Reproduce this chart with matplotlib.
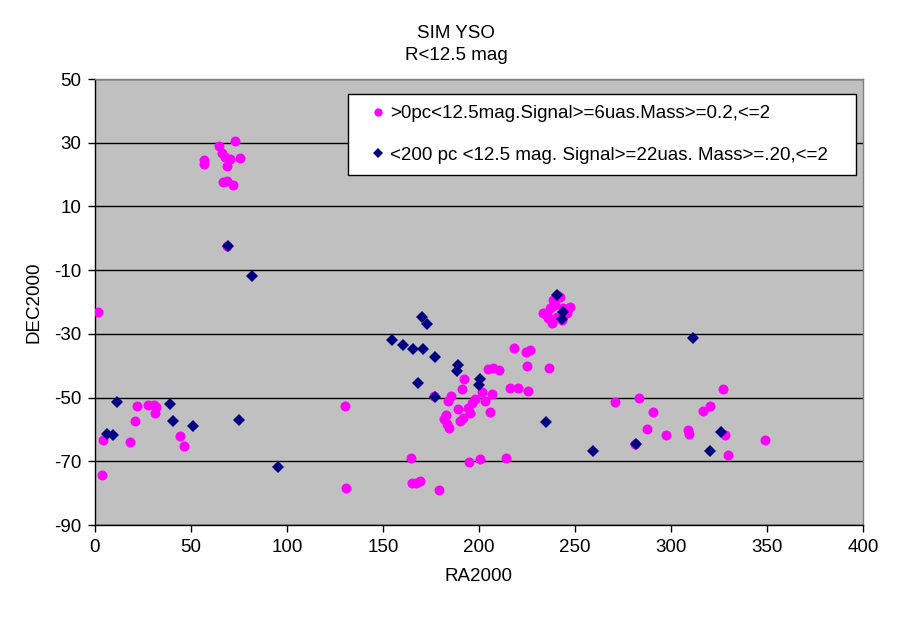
import matplotlib
matplotlib.use("Agg")
import matplotlib.pyplot as plt
from matplotlib.lines import Line2D

plt.rcParams['font.family'] = ['Liberation Sans', 'DejaVu Sans']
plt.rcParams['axes.unicode_minus'] = False

# Series 1: >0pc<12.5mag.Signal>=6uas.Mass>=0.2,<=2  (magenta circles)
ra_all = [72.8, 64.6, 66.3, 67.7, 70.3, 75.5, 56.8, 56.8, 68.6, 66.8, 68.6, 71.9, 68.9,
          1.4, 21.7, 27.8, 30.7, 31.8, 31.3, 20.8, 4.3, 18.1, 44.1, 46.4, 3.5,
          130.2, 130.7,
          218.1, 224.5, 226.6, 224.8, 236.3, 204.9, 207.5, 210.4, 192.0, 191.1, 216.1, 220.5,
          225.5, 201.6, 206.8, 176.6, 185.3, 184.0, 197.9, 196.2, 203.1, 189.2, 194.4, 205.7,
          195.3, 182.8, 181.8, 191.8, 190.1, 183.5, 184.5, 164.4, 194.8, 200.5, 214.1,
          164.9, 169.3, 167.1, 179.0,
          240.4, 238.7, 247.4, 233.5, 236.1, 237.8, 240.4, 245.7, 239.6, 242.2, 235.2, 237.0,
          243.9, 243.0,
          270.8, 283.2, 290.6, 287.5, 297.4, 308.7, 309.4, 316.8, 320.3, 326.9, 328.3, 329.7,
          349.0, 281.0]
dec_all = [30.6, 29.1, 26.7, 25.4, 24.8, 25.3, 24.6, 23.3, 22.7, 17.8, 18.1, 16.7, -2.3,
           -23.0, -52.6, -52.3, -52.2, -53.0, -54.9, -57.2, -63.3, -63.8, -62.2, -65.1, -74.2,
           -52.8, -78.5,
           -34.3, -35.8, -35.1, -40.1, -40.6, -41.1, -40.6, -41.5, -44.3, -47.4, -46.9, -46.9,
           -47.8, -48.1, -48.8, -49.5, -49.5, -51.1, -50.4, -51.8, -51.0, -53.7, -53.4, -54.4,
           -54.9, -55.5, -56.8, -56.5, -57.2, -58.3, -59.6, -69.0, -70.2, -69.3, -69.0,
           -76.9, -76.1, -76.7, -79.0,
           -17.8, -19.4, -21.7, -23.4, -25.1, -26.7, -24.6, -23.5, -20.9, -18.3, -24.1, -22.0,
           -22.0, -25.5,
           -51.3, -50.0, -54.4, -60.0, -61.6, -60.2, -61.4, -54.1, -52.8, -47.3, -61.8, -68.0,
           -63.2, -64.5]

# Series 2: <200 pc <12.5 mag. Signal>=22uas. Mass>=.20,<=2  (navy diamonds)
ra_near = [69.4, 81.9, 11.6, 39.1, 40.8, 51.2, 75.2, 6.4, 9.2, 95.1,
           170.5, 173.1, 154.8, 160.6, 165.6, 170.7, 177.3, 189.2, 188.7, 168.4, 200.7, 200.2,
           177.3, 235.1, 240.4, 243.9, 243.0,
           311.6, 259.5, 281.6, 326.2, 320.5]
dec_near = [-2.5, -11.8, -51.5, -52.1, -57.3, -59.0, -57.1, -61.5, -61.8, -71.8,
            -24.8, -27.0, -32.0, -33.6, -34.8, -34.8, -37.4, -39.8, -41.8, -45.5, -44.2, -46.0,
            -49.9, -57.8, -17.8, -23.0, -25.3,
            -31.4, -66.9, -64.7, -60.8, -66.9]

label_all = ">0pc<12.5mag.Signal>=6uas.Mass>=0.2,<=2"
label_near = "<200 pc <12.5 mag. Signal>=22uas. Mass>=.20,<=2"
x_ticks = list(range(0, 401, 50))
y_ticks = list(range(-90, 51, 20))

FS = 13.5
W, H = 911, 623
fig = plt.figure(figsize=(W / 100, H / 100), dpi=100)
fig.patch.set_facecolor('white')
ax = fig.add_axes([95 / W, 1 - 525 / H, (863 - 95) / W, (525 - 79) / H])
ax.set_facecolor('#C0C0C0')

ax.set_xlim(0, 400)
ax.set_ylim(-90, 50)
ax.set_xticks(x_ticks)
ax.set_yticks(y_ticks)
ax.yaxis.grid(True, color='black', linewidth=1.0)
ax.set_axisbelow(True)

ax.plot(ra_all, dec_all, linestyle='none', marker='o', markersize=7.2,
        color='#FF00FF', markeredgewidth=0, zorder=3)
ax.plot(ra_near, dec_near, linestyle='none', marker='D', markersize=6.2,
        color='#000080', markeredgewidth=0, zorder=4)

for s in ['top', 'right']:
    ax.spines[s].set_color('#808080')
    ax.spines[s].set_linewidth(1.0)
for s in ['left', 'bottom']:
    ax.spines[s].set_color('black')
    ax.spines[s].set_linewidth(1.0)

ax.tick_params(axis='both', direction='out', length=5, width=1, labelsize=FS, colors='black')
ax.tick_params(axis='x', pad=5)
ax.tick_params(axis='y', pad=5)
ax.set_xlabel('RA2000', fontsize=FS, labelpad=9)
ax.set_ylabel('DEC2000', fontsize=FS, labelpad=8)

fig.text(456 / W, 1 - 34 / H, 'SIM YSO', ha='center', va='center', fontsize=FS)
fig.text(456 / W, 1 - 55 / H, 'R<12.5 mag', ha='center', va='center', fontsize=FS)

handles = [Line2D([], [], linestyle='none', marker='o', markersize=6, color='#FF00FF', markeredgewidth=0),
           Line2D([], [], linestyle='none', marker='D', markersize=5, color='#000080', markeredgewidth=0)]
leg = fig.legend(handles, [label_all, label_near], loc='upper left',
                 bbox_to_anchor=(348 / W, 1 - 94 / H, (856 - 348) / W, 0),
                 bbox_transform=fig.transFigure, mode='expand',
                 fontsize=FS, frameon=True, fancybox=False, handlelength=2.0,
                 handletextpad=-0.35, borderpad=0.6, labelspacing=1.3, borderaxespad=0)
leg.get_frame().set_edgecolor('black')
leg.get_frame().set_linewidth(1.0)
leg.get_frame().set_facecolor('white')
leg.get_frame().set_alpha(1)

fig.savefig('out.png', dpi=100)
